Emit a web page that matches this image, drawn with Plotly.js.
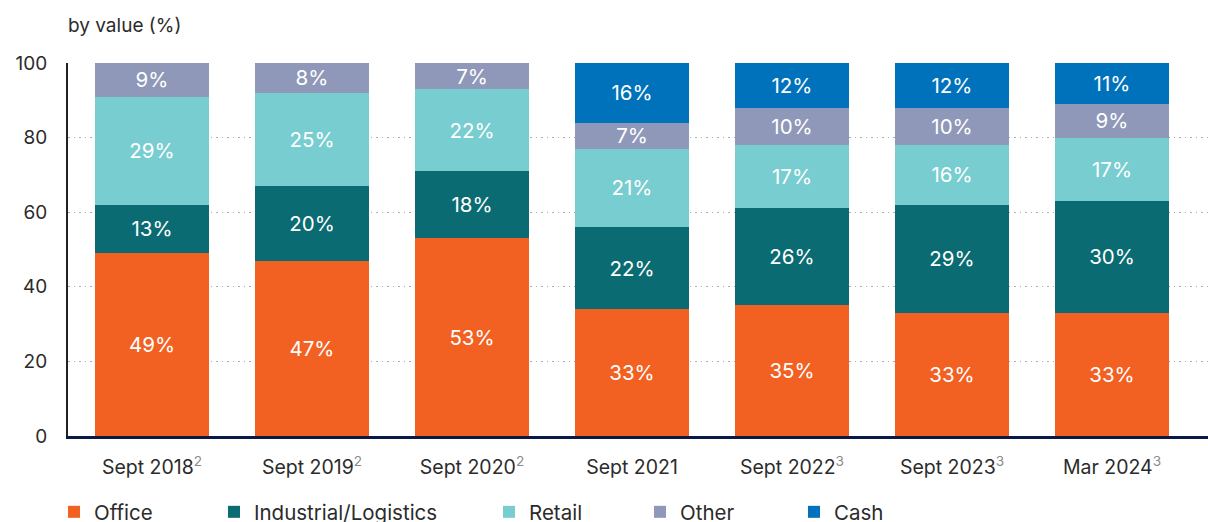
<!DOCTYPE html>
<html>
<head>
<meta charset="utf-8">
<script src="https://cdn.plot.ly/plotly-3.0.1.min.js"></script>
<style>
  html, body { margin: 0; padding: 0; background: #fff; }
  #chart { width: 1208px; height: 522px; }
</style>
</head>
<body>
<div id="chart"></div>
<script>
// ---- data ----
const categories = ["Sept 2018", "Sept 2019", "Sept 2020", "Sept 2021", "Sept 2022", "Sept 2023", "Mar 2024"];
const footnotes  = ["2", "2", "2", "", "3", "3", "3"];
const seriesNames = ["Office", "Industrial/Logistics", "Retail", "Other", "Cash"];

const office     = [49, 47, 53, 34, 35, 33, 33];
const industrial = [13, 20, 18, 22, 26, 29, 30];
const retail     = [29, 25, 22, 21, 17, 16, 17];
const other      = [9, 8, 7, 7, 10, 10, 9];
const cash       = [0, 0, 0, 16, 12, 12, 11];

// printed labels (as shown on the chart)
const officeLabels     = ["49%", "47%", "53%", "33%", "35%", "33%", "33%"];
const industrialLabels = ["13%", "20%", "18%", "22%", "26%", "29%", "30%"];
const retailLabels     = ["29%", "25%", "22%", "21%", "17%", "16%", "17%"];
const otherLabels      = ["9%", "8%", "7%", "7%", "10%", "10%", "9%"];
const cashLabels       = ["", "", "", "16%", "12%", "12%", "11%"];

const yTicks = [0, 20, 40, 60, 80, 100];

// ---- styling ----
const colors = ["#F26122", "#0A6B72", "#78CDD0", "#8F98B8", "#0072BC"];
const values = [office, industrial, retail, other, cash];
const labels = [officeLabels, industrialLabels, retailLabels, otherLabels, cashLabels];
const FONT = "Inter, 'Open Sans', sans-serif";
const TXT = "#2b2b2b";

const tickText = categories.map((c, k) =>
  footnotes[k] ? c + "<sup><span style='color:#8a8a8a'>" + footnotes[k] + "</span></sup>" : c);

const plotLeft = 68;
const legendPx = [68, 228, 503, 654, 808];
const legendKeys = ["legend", "legend2", "legend3", "legend4", "legend5"];

const traces = seriesNames.map((name, i) => ({
  type: "bar",
  name: name,
  x: categories.map((c, k) => k),
  y: values[i],
  text: labels[i],
  textposition: "inside",
  insidetextanchor: "middle",
  textangle: 0,
  constraintext: "none",
  textfont: { family: FONT, size: 20.5, color: "#ffffff" },
  marker: { color: colors[i] },
  legend: legendKeys[i],
  hoverinfo: "skip"
}));

const layout = {
  width: 1208,
  height: 522,
  margin: { l: plotLeft, r: 0, t: 63, b: 86, pad: 0 },
  paper_bgcolor: "#ffffff",
  plot_bgcolor: "#ffffff",
  barmode: "stack",
  bargap: 0.2875,
  font: { family: FONT, color: TXT, size: 19 },
  title: {
    text: "by value (%)",
    font: { family: FONT, size: 19, color: TXT },
    xref: "container", x: 68 / 1208, xanchor: "left",
    yref: "container", y: 1 - 25 / 522, yanchor: "middle"
  },
  xaxis: {
    range: [-0.525, 6.6],
    tickmode: "array",
    tickvals: categories.map((c, k) => k),
    ticktext: tickText,
    showgrid: false,
    zeroline: false,
    showline: true,
    linecolor: "#0b1a45",
    linewidth: 3,
    ticks: "",
    ticklabelstandoff: 12,
    tickfont: { family: FONT, size: 19.5, color: TXT },
    fixedrange: true
  },
  yaxis: {
    range: [0, 100],
    tickmode: "array",
    tickvals: yTicks,
    showgrid: true,
    gridcolor: "#a3adbd",
    griddash: "1.5px,4px",
    gridwidth: 1,
    zeroline: false,
    showline: true,
    linecolor: "#222222",
    linewidth: 2,
    ticks: "",
    ticklabelstandoff: 15,
    tickfont: { family: FONT, size: 19, color: TXT },
    fixedrange: true
  },
  showlegend: true
};

legendKeys.forEach((key, i) => {
  layout[key] = {
    orientation: "h",
    xref: "container",
    yref: "container",
    x: (legendPx[i] - 14) / 1208,
    xanchor: "left",
    y: 1 - 512 / 522,
    yanchor: "middle",
    bgcolor: "rgba(0,0,0,0)",
    borderwidth: 0,
    font: { family: FONT, size: 20.5, color: TXT }
  };
});

Plotly.newPlot("chart", traces, layout, { displayModeBar: false, staticPlot: true });
</script>
</body>
</html>
